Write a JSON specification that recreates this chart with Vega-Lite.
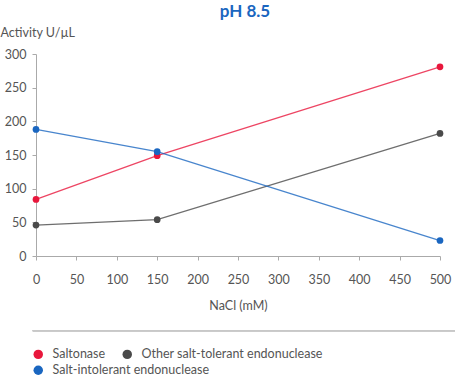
{
  "$schema": "https://vega.github.io/schema/vega-lite/v6.json",
  "width": 404,
  "height": 202,
  "autosize": {"type": "none"},
  "padding": {"left": 36, "top": 54, "right": 15, "bottom": 120},
  "background": "white",
  "config": {
    "font": "Lato",
    "view": {"stroke": null},
    "axis": {"labelOverlap": false, "labelFlush": false, "grid": false},
    "legend": {"title": null, "symbolType": "circle", "symbolSize": 90, "symbolStrokeWidth": 0,
      "symbolOpacity": 1, "labelLimit": 400, "labelFontSize": 12.5, "labelColor": "#555",
      "labelOffset": 8, "columnPadding": 15, "rowPadding": 3}
  },
  "title": {
    "text": "pH 8.5",
    "color": "#1a66c0",
    "fontSize": 17,
    "fontWeight": "bold",
    "font": "Lato",
    "anchor": "middle",
    "dx": 7,
    "offset": 5
  },
  "data": {
    "values": [
      {"series": "Saltonase", "nacl": 0, "activity": 84},
      {"series": "Saltonase", "nacl": 150, "activity": 149},
      {"series": "Saltonase", "nacl": 500, "activity": 281},
      {"series": "Other salt-tolerant endonuclease", "nacl": 0, "activity": 46},
      {"series": "Other salt-tolerant endonuclease", "nacl": 150, "activity": 54},
      {"series": "Other salt-tolerant endonuclease", "nacl": 500, "activity": 182},
      {"series": "Salt-intolerant endonuclease", "nacl": 0, "activity": 188},
      {"series": "Salt-intolerant endonuclease", "nacl": 150, "activity": 155},
      {"series": "Salt-intolerant endonuclease", "nacl": 500, "activity": 23}
    ]
  },
  "encoding": {
    "x": {"field": "nacl", "type": "quantitative",
      "scale": {"domain": [0, 500], "nice": false},
      "axis": {"values": [0,50,100,150,200,250,300,350,400,450,500],
        "title": "NaCl (mM)", "titleFontWeight": "normal", "titleFontSize": 12.5, "titleColor": "#555",
        "titlePadding": 14,
        "labelFontSize": 12.5, "labelColor": "#555", "labelPadding": 13,
        "domainColor": "#aaa", "tickColor": "#aaa", "tickSize": 4}},
    "y": {"field": "activity", "type": "quantitative",
      "scale": {"domain": [0, 300], "nice": false},
      "axis": {"values": [0,50,100,150,200,250,300], "tickCount": 7,
        "title": "Activity U/µL", "titleAngle": 0, "titleAlign": "left", "titleBaseline": "alphabetic",
        "titleX": -36, "titleY": -18, "titleFontWeight": "normal", "titleFontSize": 12.5, "titleColor": "#555",
        "labelFontSize": 12.5, "labelColor": "#555", "labelPadding": 6,
        "domainColor": "#aaa", "tickColor": "#aaa", "tickSize": 4}}
  },
  "layer": [
    {
      "mark": {"type": "rule", "color": "#c8c8c8", "strokeWidth": 1},
      "encoding": {
        "y": {"datum": -111, "type": "quantitative"},
        "x": {"datum": -4, "type": "quantitative"},
        "x2": {"datum": 520}
      }
    },
    {
      "mark": {"type": "line", "strokeWidth": 1.3, "opacity": 0.8},
      "encoding": {
        "color": {"field": "series", "type": "nominal", "legend": null,
          "scale": {"domain": ["Saltonase", "Other salt-tolerant endonuclease", "Salt-intolerant endonuclease"],
                    "range": ["#e8173c", "#4a4a4a", "#1a66c0"]}}
      }
    },
    {
      "transform": [{"filter": "datum.series !== 'Salt-intolerant endonuclease'"}],
      "mark": {"type": "point", "filled": true, "size": 45, "opacity": 1},
      "encoding": {
        "color": {"field": "series", "type": "nominal",
          "scale": {"domain": ["Saltonase", "Other salt-tolerant endonuclease"],
                    "range": ["#e8173c", "#4a4a4a"]},
          "legend": {"orient": "none", "legendX": -4, "legendY": 294, "direction": "horizontal"}}
      }
    },
    {
      "transform": [{"filter": "datum.series === 'Salt-intolerant endonuclease'"}],
      "mark": {"type": "point", "filled": true, "size": 45, "opacity": 1},
      "encoding": {
        "color": {"field": "series", "type": "nominal",
          "scale": {"domain": ["Salt-intolerant endonuclease"],
                    "range": ["#1a66c0"]},
          "legend": {"orient": "none", "legendX": -4, "legendY": 310, "direction": "horizontal"}}
      }
    }
  ],
  "resolve": {"scale": {"color": "independent"}, "legend": {"color": "independent"}}
}
